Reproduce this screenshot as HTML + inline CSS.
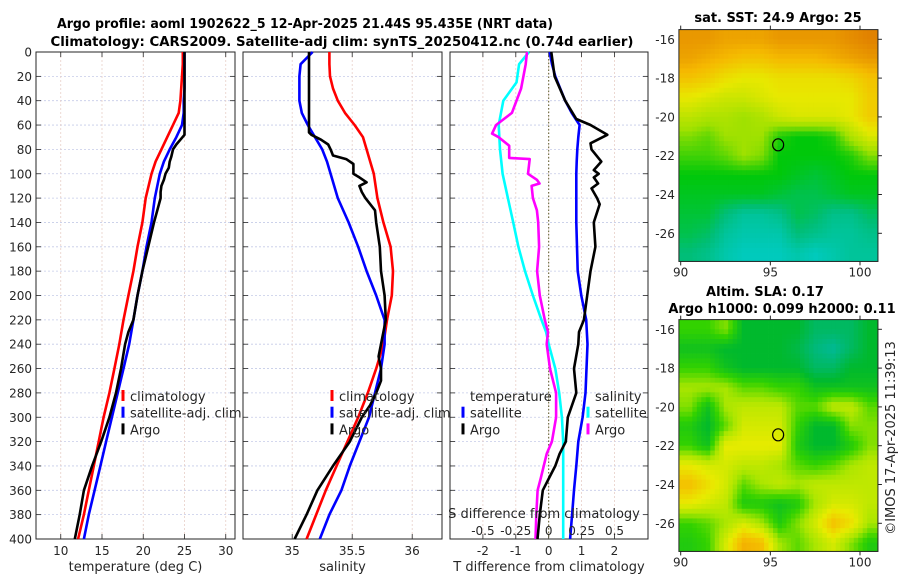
<!DOCTYPE html>
<html><head><meta charset="utf-8"><style>
html,body{margin:0;padding:0;background:#fff;}
svg text{font-family:"DejaVu Sans","Liberation Sans",sans-serif;fill:#262626;}
</style></head><body>
<svg id="fig" width="900" height="580" viewBox="0 0 900 580" xmlns="http://www.w3.org/2000/svg">
<text x="305" y="28" text-anchor="middle" font-size="13" font-weight="bold" textLength="496" lengthAdjust="spacingAndGlyphs" style="fill:#000">Argo profile: aoml 1902622_5 12-Apr-2025 21.44S 95.435E (NRT data)</text>
<text x="342" y="46" text-anchor="middle" font-size="13" font-weight="bold" textLength="583" lengthAdjust="spacingAndGlyphs" style="fill:#000">Climatology: CARS2009. Satellite-adj clim: synTS_20250412.nc (0.74d earlier)</text>
<g id="layer"></g>
<text x="778" y="22" text-anchor="middle" font-size="13" font-weight="bold" style="fill:#000">sat. SST: 24.9 Argo: 25</text>
<text x="765" y="296" text-anchor="middle" font-size="13" font-weight="bold" style="fill:#000">Altim. SLA: 0.17</text>
<text x="782" y="313" text-anchor="middle" font-size="13" font-weight="bold" style="fill:#000">Argo h1000: 0.099 h2000: 0.11</text>
<text transform="translate(895,438) rotate(-90)" text-anchor="middle" font-size="13">©IMOS 17-Apr-2025 11:39:13</text>
</svg>
<script>
// ---- profile data ----
const depthGrid=[0,10,20,30,40,50,60,70,80,90,100,120,140,160,180,200,220,240,260,280,300,320,340,360,380,400];
const tempClim=[24.8,24.8,24.7,24.6,24.5,24.3,23.6,22.9,22.2,21.5,21.0,20.3,19.9,19.3,18.8,18.2,17.6,17.1,16.5,15.9,15.2,14.6,14.0,13.4,12.8,12.1];
const tempSat=[25.0,25.0,25.0,25.0,24.9,24.9,24.7,24.0,23.2,22.5,22.0,21.4,21.0,20.4,19.9,19.3,18.8,18.3,17.6,16.9,16.2,15.5,14.8,14.1,13.4,12.8];
const argoTempDepth=[0,20,40,60,65,68,72,76,80,86,90,95,100,105,110,115,120,130,140,160,180,200,220,230,240,260,280,300,320,340,360,380,400];
const argoTemp=[25.0,25.0,25.0,25.0,25.0,25.0,24.5,24.0,23.6,23.4,23.2,23.1,22.7,22.5,22.2,22.1,22.1,21.7,21.3,20.6,19.9,19.3,18.8,18.2,17.8,17.3,16.7,15.9,14.9,13.8,12.8,12.3,11.7];
const salClim=[35.31,35.31,35.315,35.34,35.38,35.44,35.52,35.59,35.62,35.65,35.68,35.71,35.76,35.82,35.84,35.83,35.79,35.76,35.70,35.63,35.55,35.46,35.37,35.28,35.20,35.12];
const salSat=[35.17,35.07,35.06,35.06,35.06,35.08,35.13,35.19,35.25,35.29,35.32,35.38,35.47,35.55,35.62,35.70,35.77,35.77,35.74,35.69,35.64,35.56,35.48,35.41,35.31,35.23];
const argoSalDepth=[0,20,40,60,66,68,72,76,80,85,88,92,100,103,107,110,115,120,130,140,160,180,200,220,240,250,260,270,280,290,300,310,320,340,360,380,400];
const argoSal=[35.14,35.14,35.14,35.14,35.14,35.16,35.24,35.30,35.32,35.34,35.45,35.51,35.51,35.56,35.62,35.56,35.58,35.61,35.69,35.70,35.73,35.74,35.77,35.78,35.74,35.72,35.74,35.74,35.70,35.65,35.58,35.53,35.48,35.34,35.21,35.12,35.02];
const tdSat=[0.03,0.1,0.2,0.35,0.5,0.7,0.94,0.9,0.87,0.85,0.84,0.84,0.84,0.86,0.88,0.99,1.14,1.18,1.15,1.12,1.03,0.90,0.84,0.77,0.71,0.65];
const tdArgoDepth=[0,20,40,55,60,68,75,80,90,97,100,103,108,112,120,125,140,160,180,200,220,230,240,260,280,300,320,330,340,350,360,380,400];
const tdArgo=[0.08,0.18,0.5,0.84,1.27,1.78,1.27,1.3,1.6,1.37,1.52,1.37,1.5,1.3,1.47,1.55,1.37,1.42,1.27,1.17,1.07,0.92,0.90,0.77,0.84,0.58,0.52,0.33,0.20,0.01,-0.18,-0.27,-0.34];
const sdSatDepth=[0,10,25,40,60,80,100,120,140,160,180,200,220,230,240,260,280,300,320,400];
const sdSat=[-0.15,-0.225,-0.245,-0.345,-0.38,-0.37,-0.35,-0.31,-0.27,-0.23,-0.18,-0.12,-0.055,-0.02,0.0,0.05,0.08,0.10,0.11,0.11];
const sdArgoDepth=[0,10,30,50,60,67,70,77,87,88,93,100,105,108,110,120,130,140,160,180,200,220,230,240,260,280,300,320,330,350,360,380,400];
const sdArgo=[-0.165,-0.175,-0.21,-0.28,-0.40,-0.43,-0.38,-0.30,-0.30,-0.144,-0.15,-0.157,-0.09,-0.07,-0.13,-0.12,-0.09,-0.08,-0.073,-0.088,-0.068,-0.03,-0.005,-0.015,0.01,0.056,0.056,0.024,-0.015,-0.06,-0.084,-0.094,-0.10];
const depthTicks=[0,20,40,60,80,100,120,140,160,180,200,220,240,260,280,300,320,340,360,380,400];
const tempTicks=[10,15,20,25,30];
const salTicks=[35,35.5,36];
const salTickLabels=["35","35.5","36"];
const tdTicks=[-2,-1,0,1,2];
const sdTicks=[-0.5,-0.25,0,0.25,0.5];
// ---- map data (rows lat -16..-27, cols lon 90.5..100.5) ----
const mapLats=[-16,-17,-18,-19,-20,-21,-22,-23,-24,-25,-26,-27];
const mapLons=[90.5,91.5,92.5,93.5,94.5,95.5,96.5,97.5,98.5,99.5,100.5];
const sstGrid=[
[26.3,26.3,26.2,26.2,26.2,26.3,26.3,26.3,26.3,26.4,26.5],
[26.2,26.1,26.0,25.9,25.9,26.0,26.0,26.0,26.1,26.2,26.3],
[25.9,25.8,25.6,25.5,25.5,25.6,25.6,25.6,25.6,25.7,25.9],
[25.5,25.4,25.3,25.3,25.4,25.5,25.5,25.5,25.5,25.5,25.8],
[25.2,25.1,25.1,25.0,25.1,25.3,25.4,25.4,25.4,25.5,25.8],
[24.9,24.8,25.0,25.0,25.0,24.6,24.5,24.5,24.6,25.1,25.4],
[24.7,24.7,24.8,25.0,24.9,24.5,24.5,24.5,24.5,24.6,24.9],
[24.5,24.5,24.5,24.5,24.5,24.5,24.4,24.3,24.4,24.5,24.5],
[24.4,24.4,24.4,24.4,24.4,24.3,24.2,24.2,24.3,24.4,24.4],
[24.3,24.3,24.0,23.8,23.8,23.9,24.2,24.1,23.9,23.9,24.1],
[24.2,24.1,23.8,23.7,23.7,23.7,24.0,23.9,23.8,23.8,23.9],
[24.0,23.9,23.7,23.6,23.6,23.6,23.7,23.6,23.7,23.8,23.8]];
const slaGrid=[
[0.09,0.09,0.11,0.06,0.06,0.06,0.06,0.04,0.04,0.04,0.06],
[0.07,0.07,0.06,0.06,0.06,0.06,0.05,0.03,0.02,0.04,0.06],
[0.09,0.09,0.07,0.06,0.06,0.06,0.06,0.04,0.04,0.06,0.06],
[0.12,0.12,0.12,0.10,0.10,0.09,0.09,0.07,0.07,0.07,0.07],
[0.11,0.07,0.12,0.13,0.13,0.13,0.10,0.10,0.13,0.13,0.10],
[0.08,0.06,0.10,0.14,0.14,0.14,0.09,0.06,0.06,0.11,0.11],
[0.09,0.07,0.15,0.15,0.15,0.15,0.08,0.06,0.06,0.08,0.11],
[0.15,0.14,0.14,0.13,0.13,0.12,0.10,0.09,0.10,0.12,0.13],
[0.18,0.16,0.14,0.10,0.12,0.13,0.12,0.13,0.13,0.13,0.13],
[0.15,0.14,0.13,0.08,0.08,0.07,0.08,0.12,0.14,0.14,0.13],
[0.09,0.10,0.12,0.14,0.12,0.08,0.11,0.14,0.18,0.16,0.12],
[0.08,0.09,0.14,0.19,0.18,0.12,0.10,0.12,0.14,0.11,0.08]];
const argoLon=95.435, argoLat=-21.44;
const mapLatTicks=[-16,-18,-20,-22,-24,-26];
const mapLonTicks=[90,95,100];

const NS='http://www.w3.org/2000/svg';
const L=document.getElementById('layer');
function mk(tag,attrs,parent){const e=document.createElementNS(NS,tag);for(const k in attrs)e.setAttribute(k,attrs[k]);(parent||L).appendChild(e);return e;}
const TOP=52,BOT=539;
const yD=d=>TOP+d*(BOT-TOP)/400;
function panel(name,x0,x1,xs,ticks,labels,gridLabelY,xlabel,showY){
  const g=mk('g',{});
  
  
  depthTicks.forEach(d=>{const l=mk('line',{x1:x0,x2:x1,y1:yD(d),y2:yD(d),stroke:'#c5cbe8','stroke-width':0.8,'stroke-dasharray':'2,2'},g);});
  ticks.forEach((t,i)=>{const x=xs(t);const l=mk('line',{x1:x,x2:x,y1:TOP,y2:BOT,stroke:'#e8cfc8','stroke-width':0.8,'stroke-dasharray':'2,2'},g);
    mk('line',{x1:x,x2:x,y1:BOT,y2:BOT-5,stroke:'#262626','stroke-width':0.8},g);mk('line',{x1:x,x2:x,y1:TOP,y2:TOP+5,stroke:'#262626','stroke-width':0.8},g);
    if(labels){const tx=mk('text',{x:x,y:gridLabelY,'text-anchor':'middle','font-size':12},g);tx.textContent=labels[i];}});
  depthTicks.forEach(d=>{mk('line',{x1:x0,x2:x0+5,y1:yD(d),y2:yD(d),stroke:'#262626','stroke-width':0.8},g);mk('line',{x1:x1,x2:x1-5,y1:yD(d),y2:yD(d),stroke:'#262626','stroke-width':0.8},g);
    if(showY){const t=mk('text',{x:x0-4,y:yD(d)+4.5,'text-anchor':'end','font-size':12},g);t.textContent=d;}});
  const f=mk('rect',{x:x0,y:TOP,width:x1-x0,height:BOT-TOP,fill:'none',stroke:'#262626','stroke-width':1},g);
  
  if(xlabel){const t=mk('text',{x:(x0+x1)/2,y:571,'text-anchor':'middle','font-size':13},g);t.textContent=xlabel;}
  return g;
}
function series(name,depths,vals,xs,color,g){
  const pts=depths.map((d,i)=>xs(vals[i]).toFixed(1)+','+yD(d).toFixed(1)).join(' ');
  const p=mk('polyline',{points:pts,fill:'none',stroke:color,'stroke-width':2.6,'stroke-linejoin':'round'},g);
  
  
}
function legend(name,x,y,items,g){
  const lg=mk('g',{},g);
  
  
  items.forEach((it,i)=>{const yy=y+i*16.7;
    if(it[0])mk('line',{x1:x,x2:x,y1:yy-6,y2:yy+5,stroke:it[0],'stroke-width':3},lg);
    const t=mk('text',{x:x+7,y:yy+5,'font-size':13},lg);t.textContent=it[1];
    });
}
// panel 1 temperature
const xT=t=>36+(t-7)*8.25;
const g1=panel('temperature-panel',36,235,xT,tempTicks,tempTicks.map(String),555,'temperature (deg C)',true);
series('temp-climatology-line',depthGrid,tempClim,xT,'#ff0000',g1);
series('temp-satellite-line',depthGrid,tempSat,xT,'#0000ff',g1);
series('temp-argo-line',argoTempDepth,argoTemp,xT,'#000000',g1);
legend('temperature-legend',123,396,[['#ff0000','climatology'],['#0000ff','satellite-adj. clim'],['#000','Argo']],g1);
// panel 2 salinity
const xS=s=>243+(s-34.59)*120;
const g2=panel('salinity-panel',243,442,xS,salTicks,salTickLabels,555,'salinity',false);
series('sal-climatology-line',depthGrid,salClim,xS,'#ff0000',g2);
series('sal-satellite-line',depthGrid,salSat,xS,'#0000ff',g2);
series('sal-argo-line',argoSalDepth,argoSal,xS,'#000000',g2);
legend('salinity-legend',332,396,[['#ff0000','climatology'],['#0000ff','satellite-adj. clim'],['#000','Argo']],g2);
// panel 3 differences
const X0=548.7;
const xTD=t=>X0+t*32.9;
const xSD=s=>X0+s*131.6;
const g3=panel('difference-panel',450,648,xTD,tdTicks,tdTicks.map(String),555,'T difference from climatology',false);
mk('line',{x1:X0,x2:X0,y1:TOP,y2:BOT,stroke:'#5a5a2a','stroke-width':1,'stroke-dasharray':'1.5,2'},g3);
series('sdiff-satellite-line',sdSatDepth,sdSat,xSD,'#00ffff',g3);
series('sdiff-argo-line',sdArgoDepth,sdArgo,xSD,'#ff00ff',g3);
series('tdiff-satellite-line',depthGrid,tdSat,xTD,'#0000ff',g3);
series('tdiff-argo-line',tdArgoDepth,tdArgo,xTD,'#000000',g3);
legend('tdiff-legend',463,396,[[null,'temperature'],['#0000ff','satellite'],['#000','Argo']],g3);
legend('sdiff-legend',588,396,[[null,'salinity'],['#00ffff','satellite'],['#ff00ff','Argo']],g3);
const st=mk('text',{x:544,y:518,'text-anchor':'middle','font-size':13},g3);st.textContent='S difference from climatology';

sdTicks.forEach(s=>{const t=mk('text',{x:xSD(s),y:535,'text-anchor':'middle','font-size':12},g3);t.textContent=String(s);});

// ---- maps ----
function lerpColor(stops,v){
  if(v<=stops[0][0])return stops[0][1];
  for(let i=1;i<stops.length;i++){if(v<=stops[i][0]){const a=stops[i-1],b=stops[i];const f=(v-a[0])/(b[0]-a[0]);return a[1].map((c,k)=>Math.round(c+(b[1][k]-c)*f));}}
  return stops[stops.length-1][1];
}
const sstStops=[[23.5,[0,205,205]],[24.0,[0,190,120]],[24.5,[0,200,10]],[25.0,[160,225,0]],[25.5,[232,232,0]],[26.0,[245,185,0]],[26.5,[225,130,0]]];
const slaStops=[[0.02,[0,185,150]],[0.06,[0,185,45]],[0.09,[50,210,0]],[0.12,[170,230,0]],[0.15,[232,235,0]],[0.18,[245,190,0]],[0.20,[240,165,0]]];
function sample(grid,lat,lon){
  let r=(-16-lat),c=(lon-90.5);
  r=Math.max(0,Math.min(grid.length-1,r));c=Math.max(0,Math.min(grid[0].length-1,c));
  const r0=Math.floor(r),c0=Math.floor(c),r1=Math.min(r0+1,grid.length-1),c1=Math.min(c0+1,grid[0].length-1);
  const fr=r-r0,fc=c-c0;
  return grid[r0][c0]*(1-fr)*(1-fc)+grid[r0][c1]*(1-fr)*fc+grid[r1][c0]*fr*(1-fc)+grid[r1][c1]*fr*fc;
}
function drawMap(name,grid,stops,yLatM16){
  const g=mk('g',{});
  
  
  const xL=lon=>680.7+(lon-90)*17.93;
  const yL=lat=>yLatM16+(-16-lat)*19.4;
  const left=xL(89.9),right=xL(101),top=yL(-15.5),bottom=yL(-27.45);
  const step=0.25;
  for(let lat=-15.5;lat>-27.5;lat-=step){
    for(let lon=89.9;lon<101;lon+=step){
      const v=sample(grid,lat-step/2,lon+step/2);
      const col=lerpColor(stops,v);
      const y0=Math.max(top,yL(lat)),y1=Math.min(bottom,yL(lat-step));
      const x0=xL(lon),x1=Math.min(right,xL(lon+step));
      if(y1>y0&&x1>x0){const c=mk('rect',{x:x0.toFixed(2),y:y0.toFixed(2),width:(x1-x0+0.4).toFixed(2),height:(y1-y0+0.4).toFixed(2),fill:'rgb('+col.join(',')+')'},g);}
    }
  }
  const fr=mk('rect',{x:left,y:top,width:right-left,height:bottom-top,fill:'none',stroke:'#262626','stroke-width':1},g);
  
  mapLatTicks.forEach(lat=>{const y=yL(lat);mk('line',{x1:right,x2:right+4,y1:y,y2:y,stroke:'#262626'},g);
    const t=mk('text',{x:left-4,y:y+4.5,'text-anchor':'end','font-size':12},g);t.textContent=String(lat);});
  mapLonTicks.forEach(lon=>{const x=xL(lon);mk('line',{x1:x,x2:x,y1:bottom,y2:bottom+4,stroke:'#262626'},g);mk('line',{x1:x,x2:x,y1:top,y2:top-4,stroke:'#262626'},g);
    const t=mk('text',{x:x,y:bottom+15,'text-anchor':'middle','font-size':12},g);t.textContent=String(lon);});
  const m=mk('ellipse',{cx:xL(argoLon),cy:yL(argoLat),rx:5.5,ry:6,fill:'none',stroke:'#000','stroke-width':1.2},g);
  
}
drawMap('sst-map',sstGrid,sstStops,39.3);
drawMap('sla-map',slaGrid,slaStops,329.3);
</script>
</body></html>
